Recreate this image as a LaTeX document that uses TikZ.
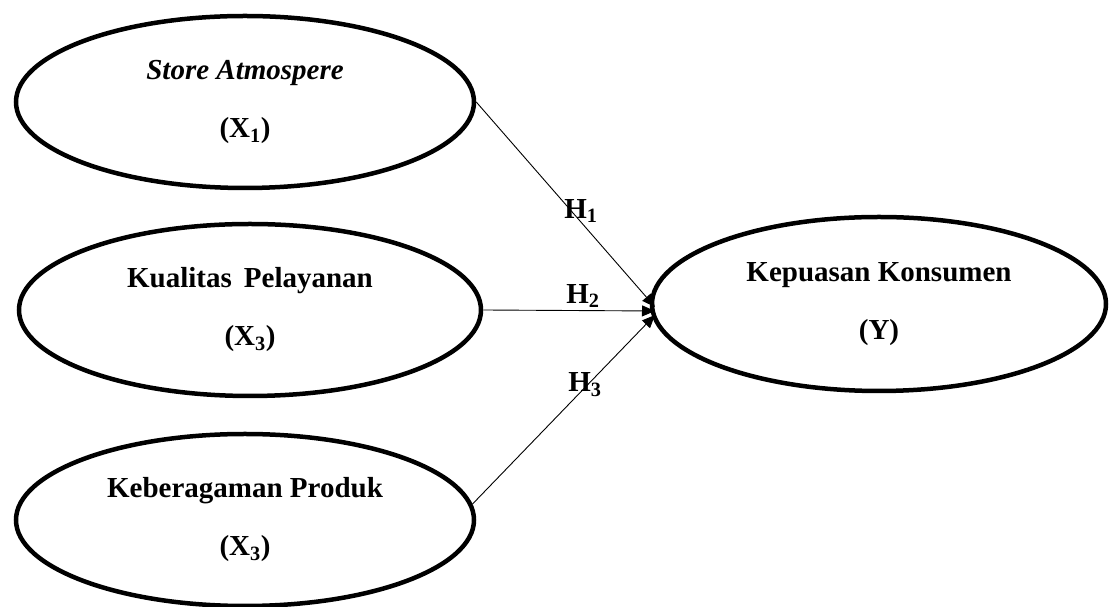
\documentclass[tikz,border=0pt]{standalone}
\usepackage{fontspec}
\setmainfont{Liberation Serif}
\usetikzlibrary{shapes.geometric,arrows.meta}
\begin{document}
\begin{tikzpicture}[x=1pt,y=1pt,
  var/.style={draw, ellipse, line width=4.5pt, inner sep=0pt,
    minimum width=458pt, minimum height=172pt, align=center,
    font=\fontsize{29}{58}\selectfont\bfseries},
  arr/.style={line width=0.9pt, -{Triangle[length=13pt,width=11pt]}},
  hlab/.style={font=\fontsize{29}{32}\selectfont\bfseries, inner sep=0pt}]
\useasboundingbox (0,0) rectangle (1112,607);
\node[var] (x1) at (245,505) {\textit{Store Atmospere}\\(X\textsubscript{1})};
\node[var, minimum width=462pt] (x2) at (250,297) {Kualitas\, Pelayanan\\(X\textsubscript{3})};
\node[var] (x3) at (245,87) {Keberagaman Produk\\(X\textsubscript{3})};
\node[var, minimum width=454pt, minimum height=174pt] (y) at (879,303) {Kepuasan Konsumen\\(Y)};
\coordinate (t1) at (655,300);
\coordinate (t2) at (655,296);
\coordinate (t3) at (655,292);
\draw[arr] (x1.east) -- (t1);
\draw[arr] (x2.east) -- (t2);
\draw[arr] (x3.4) -- (t3);
\node[hlab] (h1) at (581,396) {H\textsubscript{1}};
\node[hlab] (h2) at (583,311) {H\textsubscript{2}};
\node[hlab] (h3) at (585,222) {H\textsubscript{3}};
\end{tikzpicture}
\end{document}
